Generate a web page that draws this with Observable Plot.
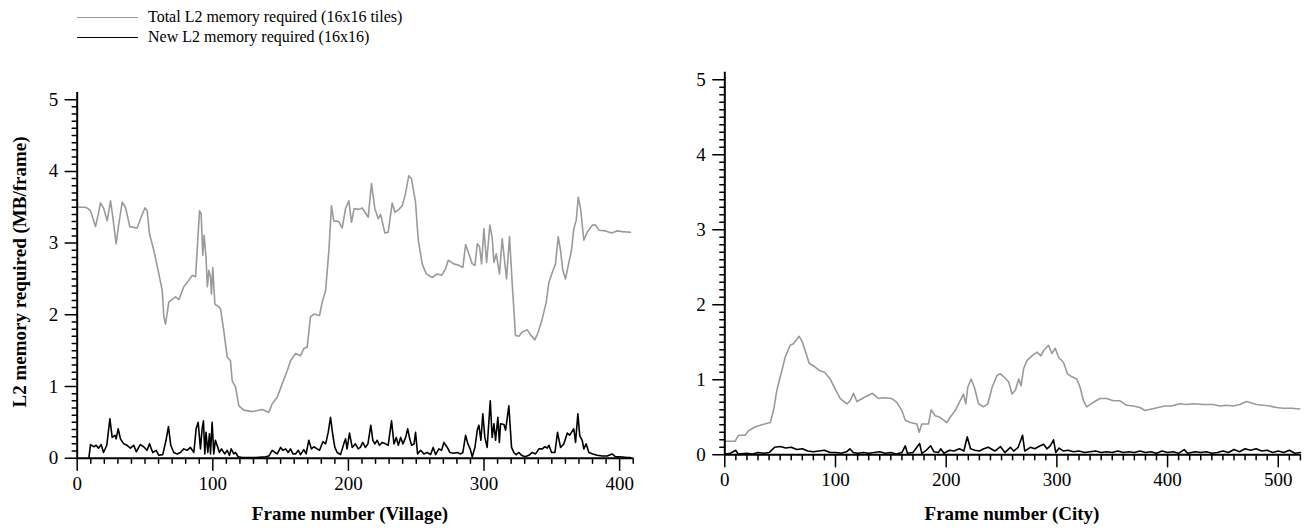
<!DOCTYPE html>
<html><head><meta charset="utf-8">
<script src="https://cdn.jsdelivr.net/npm/d3@7"></script>
<script src="https://cdn.jsdelivr.net/npm/@observablehq/plot@0.6"></script>
<style>
body{margin:0;background:#fff;font-family:"Liberation Serif","Times New Roman",serif;color:#000;}
#wrap{position:relative;width:1304px;height:531px;overflow:hidden;background:#fff;}
.abs{position:absolute;}
.leg{font-size:16px;white-space:nowrap;line-height:1;}
.ttl{font-weight:bold;font-size:19px;white-space:nowrap;transform:translate(-50%,-50%);line-height:1;}
</style></head><body><div id="wrap"></div>
<script>
// ---------- Data ----------
const seriesLabels = ["Total L2 memory required (16x16 tiles)", "New L2 memory required (16x16)"];
const xTitles = ["Frame number (Village)", "Frame number (City)"];
const yTitle = "L2 memory required (MB/frame)";
const yTicks = [0, 1, 2, 3, 4, 5];
const villageXTicks = [0, 100, 200, 300, 400];
const cityXTicks = [0, 100, 200, 300, 400, 500];

const villageTotalFrames = [0,6,8,9.8,11.5,13.5,15.5,17.2,19.6,22.1,24.6,26.3,28.7,30.7,33.2,35.6,38.8,44.2,46.7,49.9,51.6,53.3,56.5,60.2,62.7,63.9,65.1,67.6,72.5,75,78.6,82.3,84.8,87.3,89.2,90.2,91.4,92.6,93.6,95,96,97.1,98.3,99,100,101.5,104.4,105.7,108.1,110.6,113,114.3,116.8,119.2,122.9,129.1,136.4,141.3,143.8,147.5,151.2,154.9,157.3,161,164.7,167.1,169.6,172,174.5,178.7,180.7,183.2,185.6,187.5,189.2,192.9,195.4,197.9,200.3,202.3,204.2,207.7,210.2,214.6,217,219.5,222,223.7,226.9,229.3,232.3,234.3,237.2,239.7,242.1,244.5,246.5,249.5,251.5,254.4,257.4,261.8,265.5,268.7,271.6,273.6,277.7,281.4,284.4,286.4,288.8,291.3,293.3,295,296.7,298.2,299.9,301.9,304.3,306,307.3,309,311.4,313.4,316.6,318.8,320.8,323.2,325.7,328.2,331.9,334.3,337.5,340,342.9,345.9,347.8,350.3,352.7,354.7,356.4,358.1,360.1,362.1,364.5,366.2,368,369.5,371.2,373.6,376.1,379.8,382.3,384.7,389.6,394,398.2,401.9,408];
const villageTotalValues = [3.50,3.50,3.48,3.45,3.35,3.23,3.40,3.56,3.48,3.31,3.59,3.36,2.99,3.27,3.57,3.50,3.23,3.21,3.34,3.49,3.45,3.13,2.90,2.57,2.34,1.97,1.87,2.18,2.25,2.21,2.39,2.48,2.55,2.53,3.13,3.45,3.41,2.83,3.11,2.80,2.39,2.62,2.53,2.29,2.66,2.15,2.11,2.08,1.78,1.41,1.36,1.08,0.99,0.73,0.67,0.65,0.68,0.64,0.76,0.85,1.04,1.22,1.36,1.46,1.43,1.53,1.55,1.97,2.01,1.99,2.18,2.34,2.90,3.52,3.31,3.30,3.21,3.48,3.59,3.29,3.48,3.47,3.49,3.36,3.83,3.48,3.34,3.40,3.14,3.15,3.56,3.43,3.47,3.52,3.69,3.94,3.90,3.57,3.04,2.71,2.57,2.52,2.57,2.55,2.64,2.76,2.71,2.69,2.66,2.98,2.85,2.71,2.69,2.99,2.95,2.71,3.20,2.73,3.25,3.08,2.73,2.85,2.57,3.06,2.50,3.09,2.43,1.71,1.70,1.76,1.79,1.72,1.65,1.76,1.94,2.18,2.45,2.59,2.71,3.09,2.90,2.62,2.50,2.69,2.90,3.20,3.32,3.64,3.48,3.04,3.15,3.25,3.25,3.18,3.17,3.14,3.17,3.16,3.15];

const villageNewFrames = [8.6,9.8,12.3,14,15.7,17.7,19.4,21.8,24.1,25.8,27.8,28.7,30.2,31.9,34.3,36.8,39.2,41.7,43.6,46.5,49,51.5,53.3,55.7,58.2,60.2,63.1,65.5,67.3,69,71.2,73.7,76.1,78.6,81,83.5,86,87.7,89.2,90.9,92.1,93.1,94.1,95,96.3,97.5,98.3,99.5,100.7,101.9,103.9,104.9,106.4,108.8,110.6,112.3,113.5,115.5,116.8,118.7,121.7,131.5,138.9,141.3,143.8,145.8,147.5,150,151.7,153.7,155.6,157.3,159.1,161,163,164.7,167.1,168.8,170.8,172.7,174.5,176.9,178.7,181.2,183.2,185.1,186.8,188.5,190,191.7,194.2,196.6,197.9,199,200.8,202.8,205.2,207.2,208.8,210.6,212.5,214.4,216.5,218,219.5,221.2,222.9,224.9,227.4,229.3,231.8,233.6,235.3,236.8,238.5,240.2,242.2,243.7,245.2,246.6,248.4,249.5,251,253.2,255.7,258.1,260.6,262.5,264.3,266.7,268.7,270.4,272.9,274.8,277.7,280.2,282.7,284.4,286.4,288.1,289.8,291.3,293.3,295,296.2,297.7,299.1,300.6,302.3,304.6,306,307.3,308.5,310.2,311.3,312.2,314.7,315.9,318.3,320.3,322,323.7,325.7,327.7,330.2,333.1,335.6,338,340.5,343,344.9,346.6,347.9,349.8,352.3,354.2,356.4,358.9,361.4,363.1,364.5,366.2,367.5,369.2,370.6,372.4,373.6,375.3,377.3,380.2,383.4,387.1,390.8,394.5,396.9,400.6,405.5,408];
const villageNewValues = [0,0.19,0.16,0.18,0.14,0.19,0.08,0.18,0.55,0.29,0.32,0.27,0.41,0.27,0.20,0.18,0.14,0.18,0.09,0.19,0.16,0.11,0.20,0.08,0.11,0.04,0.05,0.25,0.44,0.18,0.08,0.06,0.08,0.13,0.11,0.15,0.08,0.41,0.50,0.13,0.41,0.52,0.06,0.36,0.08,0.34,0.06,0.50,0.06,0.25,0.14,0.08,0.13,0.06,0.11,0.04,0.13,0.06,0.08,0.02,0.01,0.01,0.02,0.03,0.11,0.08,0.06,0.15,0.11,0.13,0.08,0.13,0.06,0.06,0.11,0.05,0.12,0.06,0.25,0.13,0.16,0.13,0.11,0.23,0.20,0.36,0.57,0.32,0.15,0.08,0.05,0.20,0.27,0.13,0.35,0.15,0.20,0.13,0.15,0.22,0.15,0.20,0.46,0.25,0.20,0.25,0.18,0.22,0.20,0.18,0.52,0.20,0.29,0.18,0.29,0.20,0.29,0.41,0.27,0.18,0.20,0.36,0.06,0.11,0.06,0.08,0.05,0.15,0.05,0.13,0.11,0.22,0.15,0.08,0.07,0.08,0.06,0.08,0.32,0.20,0.13,0.02,0.15,0.39,0.46,0.25,0.62,0.29,0.15,0.80,0.29,0.48,0.25,0.57,0.22,0.48,0.47,0.39,0.73,0.15,0.08,0.05,0.08,0.04,0.02,0.04,0.08,0.06,0.13,0.13,0.16,0.14,0.18,0.08,0.08,0.36,0.15,0.20,0.35,0.32,0.36,0.41,0.22,0.62,0.31,0.25,0.13,0.20,0.08,0.06,0.04,0.03,0.03,0.06,0.02,0.02,0.01,0.01];

const cityTotalFrames = [0,9.3,12.3,18.3,21.4,27.4,33.4,41,44,47,51.5,54.5,59,62,64.1,67.2,69.6,72.6,76.2,81.6,86.1,90.1,95.2,99.7,104.3,110.3,113.3,116.3,119.3,126.8,133.4,138.9,143.4,150.9,155.4,160,163,167.5,173.5,175.6,178,184,186.4,190,194.5,200.5,203.6,208.1,212.6,215.6,217.7,219.5,222.5,225.5,229.2,233.7,237.6,241.5,246,249,252,256.5,259.5,262.5,265.5,267.6,270,273,277.5,282,285.6,288,292.5,295.5,298.5,301.5,306,309.6,313.5,318,321,324,327,333,339,345,351,357,363,369,375,379.6,385.6,391.6,397.6,403.6,411.1,417.1,423.2,432.2,441.3,447.3,453.3,459.3,465.3,471.3,475.8,480.4,486.4,492.4,498.4,504.4,512,519.5];
const cityTotalValues = [0.18,0.18,0.26,0.26,0.32,0.37,0.40,0.43,0.59,0.86,1.12,1.30,1.46,1.48,1.52,1.58,1.52,1.39,1.22,1.17,1.12,1.10,1.01,0.88,0.75,0.68,0.72,0.82,0.71,0.77,0.82,0.75,0.76,0.75,0.70,0.59,0.46,0.43,0.41,0.30,0.41,0.41,0.60,0.52,0.50,0.43,0.50,0.59,0.72,0.81,0.68,0.90,1.01,0.90,0.68,0.64,0.68,0.90,1.06,1.08,1.04,0.97,0.81,0.86,1.01,0.92,1.15,1.26,1.32,1.37,1.32,1.39,1.46,1.35,1.42,1.30,1.23,1.08,1.04,1.01,0.90,0.72,0.64,0.70,0.75,0.75,0.72,0.72,0.66,0.65,0.63,0.59,0.61,0.63,0.65,0.65,0.68,0.67,0.68,0.67,0.67,0.65,0.66,0.65,0.67,0.71,0.69,0.67,0.66,0.65,0.63,0.62,0.62,0.61];

const cityNewFrames = [0,5,10,12,20,25,30,35,40,45,50,55,60,65,70,75,80,85,90,95,100,105,110,113,116,120,125,130,135,140,145,150,155,160,163,165,170,176,178,182,186,189,193,195,198,203,207,212,216,219,222,226,230,234,238,244,249,253,258,261,265,269,271,276,280,285,288,291,294,297,299,302,306,310,315,320,325,330,335,340,345,350,355,360,365,370,375,380,385,390,395,400,405,410,415,418,425,430,435,440,445,450,455,460,465,470,475,480,485,490,495,500,505,510,515,520];
const cityNewValues = [0.01,0.02,0.06,0.01,0.02,0.01,0.03,0.02,0.03,0.10,0.11,0.09,0.10,0.07,0.08,0.05,0.04,0.05,0.06,0.03,0.03,0.02,0.04,0.08,0.03,0.02,0.03,0.02,0.03,0.04,0.02,0.03,0.01,0.03,0.12,0.02,0.03,0.15,0.02,0.06,0.12,0.04,0.03,0.08,0.02,0.06,0.05,0.08,0.05,0.24,0.08,0.06,0.05,0.08,0.10,0.05,0.11,0.03,0.10,0.05,0.10,0.26,0.05,0.10,0.08,0.12,0.14,0.08,0.12,0.20,0.03,0.09,0.05,0.06,0.04,0.05,0.03,0.04,0.05,0.03,0.04,0.03,0.05,0.03,0.04,0.03,0.05,0.03,0.04,0.02,0.05,0.03,0.04,0.02,0.07,0.02,0.04,0.03,0.04,0.02,0.03,0.05,0.03,0.07,0.04,0.08,0.06,0.08,0.05,0.06,0.03,0.05,0.03,0.06,0.02,0.03];

// ---------- Drawing ----------
const SERIF = "Liberation Serif";
const wrap = document.getElementById("wrap");
const toRows = (fs, vs) => fs.map((f, i) => ({frame: f, value: vs[i]}));

function makePanel(cfg) {
  const minorX = d3.range(0, cfg.xMax + 0.001, 10).filter(d => !cfg.xMajor.includes(d));
  const minorY = d3.range(0, 51).map(i => i / 10).filter(d => !yTicks.includes(d));
  const pyu = (cfg.height - cfg.mt - cfg.mb) / 5.1;          // pixels per y unit
  const pxu = (cfg.width - cfg.ml - cfg.mr) / cfg.xMax;      // pixels per frame
  // tick segments as two-point paths, grouped by tick
  const xTickSegs = [];
  minorX.forEach(v => { xTickSegs.push({k: "m" + v, x: v, y: 0}, {k: "m" + v, x: v, y: -5 / pyu}); });
  cfg.xMajor.forEach(v => { xTickSegs.push({k: "M" + v, x: v, y: 0}, {k: "M" + v, x: v, y: -12 / pyu}); });
  const yTickSegs = [];
  minorY.forEach(v => { yTickSegs.push({k: "m" + v, x: 0, y: v}, {k: "m" + v, x: -5 / pxu, y: v}); });
  yTicks.forEach(v => { yTickSegs.push({k: "M" + v, x: 0, y: v}, {k: "M" + v, x: -12 / pxu, y: v}); });
  return Plot.plot({
    width: cfg.width, height: cfg.height,
    marginLeft: cfg.ml, marginRight: cfg.mr, marginTop: cfg.mt, marginBottom: cfg.mb,
    style: {fontFamily: SERIF, color: "black", background: "transparent", overflow: "visible"},
    x: {domain: [0, cfg.xMax]},
    y: {domain: [0, 5.1]},
    marks: [
      Plot.axisX(cfg.xMajor, {anchor: "bottom", tickSize: 0, tickPadding: 18, fontSize: 19, fontFamily: SERIF, label: null, tickFormat: "d"}),
      Plot.axisY(yTicks, {anchor: "left", tickSize: 0, tickPadding: 19, fontSize: 19, fontFamily: SERIF, label: null, tickFormat: "d"}),
      Plot.line(xTickSegs, {x: "x", y: "y", z: "k", stroke: "black", strokeWidth: 1.5, clip: false}),
      Plot.line(yTickSegs, {x: "x", y: "y", z: "k", stroke: "black", strokeWidth: 1.5, clip: false}),
      Plot.line(toRows(cfg.totalF, cfg.totalV), {x: "frame", y: "value", stroke: "#9a9a9a", strokeWidth: 1.6}),
      Plot.line(toRows(cfg.newF, cfg.newV), {x: "frame", y: "value", stroke: "black", strokeWidth: 1.6}),
      Plot.ruleX([0], {stroke: "black", strokeWidth: 2}),
      Plot.ruleY([0], {stroke: "black", strokeWidth: 2})
    ]
  });
}

// Left panel spans the whole width; the right panel's content is moved into it (single SVG)
const leftSvg = makePanel({totalF: villageTotalFrames, totalV: villageTotalValues, newF: villageNewFrames, newV: villageNewValues,
  xMax: 410, xMajor: villageXTicks, width: 1304, height: 531, ml: 76.7, mr: 1304 - 632.7, mt: 92, mb: 73.3});
const rightSvg = makePanel({totalF: cityTotalFrames, totalV: cityTotalValues, newF: cityNewFrames, newV: cityNewValues,
  xMax: 520, xMajor: cityXTicks, width: 654, height: 531, ml: 74.3, mr: 4.1, mt: 71.8, mb: 76.7});
const grp = document.createElementNS("http://www.w3.org/2000/svg", "g");
grp.setAttribute("transform", "translate(650,0)");
for (const a of ["font-family", "font-size", "text-anchor", "fill"]) {
  if (rightSvg.getAttribute(a) != null) grp.setAttribute(a, rightSvg.getAttribute(a));
}
Array.from(rightSvg.childNodes).forEach(n => { if (n.nodeName.toLowerCase() !== "style") grp.appendChild(n); });
leftSvg.appendChild(grp);
leftSvg.classList.add("abs");
leftSvg.style.left = "0px";
leftSvg.style.top = "0px";
wrap.appendChild(leftSvg);

// Legend
const legendColors = ["#9a9a9a", "#000"];
seriesLabels.forEach((lab, i) => {
  const cy = 18 + i * 20;
  const ln = document.createElement("div");
  ln.className = "abs";
  Object.assign(ln.style, {left: "77px", top: (cy - 1) + "px", width: "61px", height: "0", borderTop: "1.6px solid " + legendColors[i]});
  wrap.appendChild(ln);
  const tx = document.createElement("div");
  tx.className = "abs leg";
  tx.textContent = lab;
  Object.assign(tx.style, {left: "148px", top: (cy - 9) + "px"});
  wrap.appendChild(tx);
});

// Axis titles
function addTitle(text, cx, cy, rotate) {
  const d = document.createElement("div");
  d.className = "abs ttl";
  d.textContent = text;
  d.style.left = cx + "px"; d.style.top = cy + "px";
  if (rotate) d.style.transform = "translate(-50%,-50%) rotate(-90deg)";
  wrap.appendChild(d);
}
addTitle(xTitles[0], 350, 513, false);
addTitle(xTitles[1], 1012, 513, false);
addTitle(yTitle, 19, 272, true);
</script></body></html>
